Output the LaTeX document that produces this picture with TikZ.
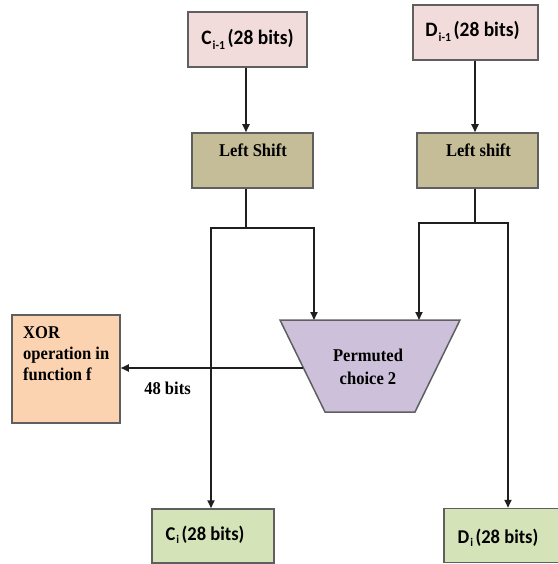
\documentclass[tikz,border=0pt]{standalone}
\usepackage{fontspec}
\setmainfont[FakeStretch=0.92]{Liberation Serif}
\newfontfamily\labelfont[FakeStretch=0.95]{Carlito}
\usetikzlibrary{arrows.meta}

\definecolor{regfill}{HTML}{F2DCDB}
\definecolor{shiftfill}{HTML}{C4BD97}
\definecolor{pcfill}{HTML}{CCC0DA}
\definecolor{xorfill}{HTML}{FBD3B1}
\definecolor{outfill}{HTML}{D5E3B9}
\definecolor{edgegray}{HTML}{5F5F5F}

% lowered index after a register name
\newcommand\lowidx[2][4.5pt]{\kern1pt\raisebox{-#1}{\scalebox{0.6}{#2}}\kern2.5pt}

\begin{document}
\begin{tikzpicture}[x=1pt,y=-1pt,
  box/.style={draw=edgegray, line width=1.5pt, inner sep=0pt},
  regbox/.style={box, fill=regfill},
  shiftbox/.style={box, fill=shiftfill, minimum width=121pt, minimum height=55pt},
  outbox/.style={box, fill=outfill, minimum height=54pt},
  regtext/.style={anchor=base, inner sep=0pt, font=\labelfont\bfseries\fontsize{20.5}{24}\selectfont},
  outtext/.style={anchor=base, inner sep=0pt, font=\labelfont\bfseries\fontsize{19.5}{22}\selectfont},
  seriftext/.style={inner sep=0pt, font=\bfseries\fontsize{18}{21}\selectfont},
  conn/.style={line width=1.7pt, draw=black!88},
  arr/.style={conn, -{Triangle[length=8pt,width=7pt]}}]
\useasboundingbox (0,0) rectangle (557,564);

% registers before the shift
\node[regbox, minimum width=119pt, minimum height=55pt] (Cprev) at (247.5,39.5) {};
\node[regtext] (Cprevtext) at (247.5,45) {C\lowidx{i-1}(28 bits)};
\node[regbox, minimum width=125pt, minimum height=55pt] (Dprev) at (475.5,32.5) {};
\node[regtext] (Dprevtext) at (472.5,37) {D\lowidx{i-1}(28 bits)};

% shift stages
\node[shiftbox] (LSL) at (252.5,160.5) {};
\node[seriftext, anchor=base] (LSLtext) at (253,157) {Left Shift};
\node[shiftbox] (LSR) at (477.5,160.5) {};
\node[seriftext, anchor=base] (LSRtext) at (478.5,157) {Left shift};

% compression permutation (trapezoid, wide side up)
\coordinate (pctl) at (280,320);
\coordinate (pctr) at (460,320);
\coordinate (pcbr) at (415,412);
\coordinate (pcbl) at (325,412);
\coordinate (pcw) at (303,368);
\filldraw[box, fill=pcfill] (pctl) -- (pctr) -- (pcbr) -- (pcbl) -- cycle;
\node[seriftext, anchor=north, align=center, font=\bfseries\fontsize{18}{23}\selectfont] (PC2) at (368,348.5) {Permuted\\choice 2};

% round function input
\node[box, fill=xorfill, minimum width=108pt, minimum height=108pt] (XOR) at (66,369) {};
\node[seriftext, anchor=north west, align=left] (XORtext) at (23,326) {XOR\\operation in\\function f};
\node[seriftext, anchor=base] (bits) at (167.5,394) {48 bits};

% registers after the shift
\node[outbox, minimum width=122pt] (CI) at (213,536) {};
\node[outtext] (CItext) at (205,540) {C\lowidx[3.5pt]{i}(28 bits)};
\node[outbox, minimum width=122pt] (DI) at (505,535.5) {};
\node[outtext] (DItext) at (498,543) {D\lowidx[3.5pt]{i}(28 bits)};

% wiring
\coordinate (cx) at (246,0);
\coordinate (dx) at (475,0);
\coordinate (cix) at (211,0);
\coordinate (pcl) at (314,0);
\coordinate (pcr) at (419,0);
\coordinate (dix) at (508,0);
\coordinate (lsplit) at (246,228);
\coordinate (rsplit) at (475,223);

\draw[arr] (Cprev.south -| cx) -- (LSL.north -| cx);
\draw[arr] (Dprev.south -| dx) -- (LSR.north -| dx);

\draw[conn] (LSL.south -| cx) -- (lsplit);
\draw[arr] (lsplit) -| (CI.north -| cix);
\draw[arr] (lsplit) -| (pctl -| pcl);

\draw[conn] (LSR.south -| dx) -- (rsplit);
\draw[arr] (rsplit) -| (pctl -| pcr);
\draw[arr] (rsplit) -| (DI.north -| dix);

\draw[arr] (pcw) -- (pcw -| XOR.east);
\end{tikzpicture}
\end{document}
